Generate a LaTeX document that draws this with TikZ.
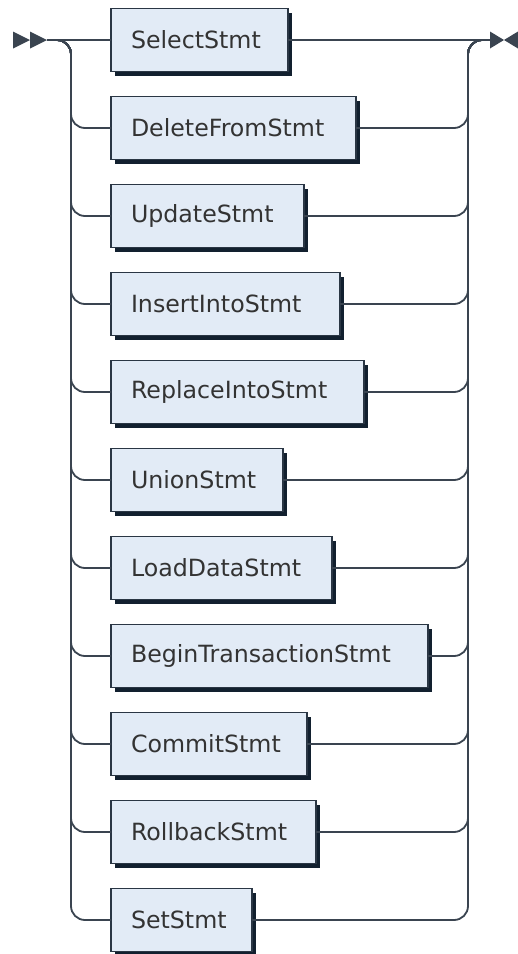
\documentclass[tikz,border=0pt]{standalone}
\usepackage{fontspec}
\setmainfont{DejaVu Sans}
\usepackage{xcolor}
\usetikzlibrary{positioning, shadows}

\definecolor{railgray}{HTML}{3A4450}
\definecolor{boxfill}{HTML}{E2EBF6}
\definecolor{boxshadow}{HTML}{12202F}
\definecolor{boxedge}{HTML}{2A3644}

\begin{document}
\begin{tikzpicture}[x=1pt, y=-1pt, font=\fontsize{23.7}{28}\selectfont]
    % Node Styles
    \tikzstyle{stmt} = [rectangle, draw=boxedge, line width=1.3pt, fill=boxfill, text=black!80, align=left, minimum height=63pt, inner xsep=20pt, outer sep=0pt, anchor=west, drop shadow={shadow xshift=4pt, shadow yshift=-4pt, fill=boxshadow, opacity=1}]
    \tikzstyle{rail} = [draw=railgray, line width=1.8pt, rounded corners=14pt]
    \tikzstyle{marker} = [fill=railgray]

    \useasboundingbox (0,0) rectangle (518,954);

    % Entry, exit and rails
    \coordinate (in) at (47,40);
    \coordinate (out) at (490,40);
    \coordinate (lrail) at (71,40);
    \coordinate (rrail) at (468,40);

    % Statements
    \node [stmt, text width=137pt] (select) at (111,40) {SelectStmt};
    \node [stmt, text width=205pt, below=25pt of select.south west, anchor=north west] (delete) {DeleteFromStmt};
    \node [stmt, text width=153pt, below=25pt of delete.south west, anchor=north west] (update) {UpdateStmt};
    \node [stmt, text width=189pt, below=25pt of update.south west, anchor=north west] (insert) {InsertIntoStmt};
    \node [stmt, text width=213pt, below=25pt of insert.south west, anchor=north west] (replace) {ReplaceIntoStmt};
    \node [stmt, text width=132pt, below=25pt of replace.south west, anchor=north west] (union) {UnionStmt};
    \node [stmt, text width=181pt, below=25pt of union.south west, anchor=north west] (load) {LoadDataStmt};
    \node [stmt, text width=277pt, below=25pt of load.south west, anchor=north west] (begin) {BeginTransactionStmt};
    \node [stmt, text width=156pt, below=25pt of begin.south west, anchor=north west] (commit) {CommitStmt};
    \node [stmt, text width=165pt, below=25pt of commit.south west, anchor=north west] (rollback) {RollbackStmt};
    \node [stmt, text width=101pt, below=25pt of rollback.south west, anchor=north west] (set) {SetStmt};

    % Start and end markers
    \fill [marker] (in) -- ++(-17,-8.5) -- ++(0,17) -- cycle;
    \fill [marker] (in) ++(-17,0) -- ++(-17,-8.5) -- ++(0,17) -- cycle;
    \fill [marker] (out) ++(0,-8.5) -- ++(14,8.5) -- ++(-14,8.5) -- cycle;
    \fill [marker] (out) ++(28,-8.5) -- ++(-14,8.5) -- ++(14,8.5) -- cycle;

    % Main line
    \draw [rail] (in) -- (select.west);
    \draw [rail] (select.east) -- (out);

    % Branches in
    \draw [rail] (in) -| (lrail |- delete.west) -- (delete.west);
    \draw [rail] (in) -| (lrail |- update.west) -- (update.west);
    \draw [rail] (in) -| (lrail |- insert.west) -- (insert.west);
    \draw [rail] (in) -| (lrail |- replace.west) -- (replace.west);
    \draw [rail] (in) -| (lrail |- union.west) -- (union.west);
    \draw [rail] (in) -| (lrail |- load.west) -- (load.west);
    \draw [rail] (in) -| (lrail |- begin.west) -- (begin.west);
    \draw [rail] (in) -| (lrail |- commit.west) -- (commit.west);
    \draw [rail] (in) -| (lrail |- rollback.west) -- (rollback.west);
    \draw [rail] (in) -| (lrail |- set.west) -- (set.west);

    % Branches out
    \draw [rail] (delete.east) -| (rrail) -- (out);
    \draw [rail] (update.east) -| (rrail) -- (out);
    \draw [rail] (insert.east) -| (rrail) -- (out);
    \draw [rail] (replace.east) -| (rrail) -- (out);
    \draw [rail] (union.east) -| (rrail) -- (out);
    \draw [rail] (load.east) -| (rrail) -- (out);
    \draw [rail] (begin.east) -| (rrail) -- (out);
    \draw [rail] (commit.east) -| (rrail) -- (out);
    \draw [rail] (rollback.east) -| (rrail) -- (out);
    \draw [rail] (set.east) -| (rrail) -- (out);
\end{tikzpicture}
\end{document}
